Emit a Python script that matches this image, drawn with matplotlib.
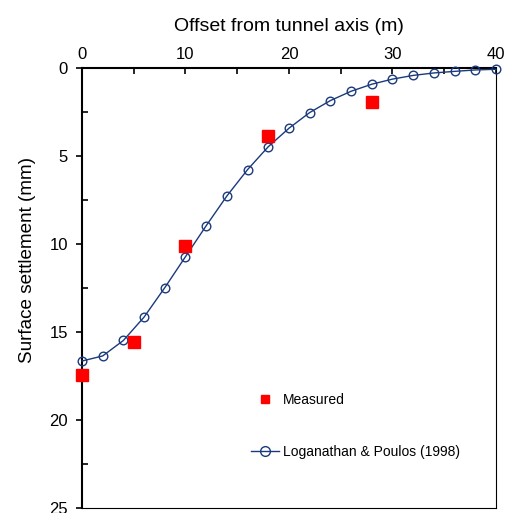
import numpy as np
import matplotlib.pyplot as plt

plt.rcParams['font.family'] = ['Liberation Sans', 'DejaVu Sans']

# Loganathan & Poulos (1998) prediction
offset_pred = [0, 2, 4, 6, 8, 10, 12, 14, 16, 18, 20, 22, 24, 26, 28, 30, 32, 34, 36, 38, 40]
settle_pred = [16.65, 16.36, 15.48, 14.15, 12.48, 10.72, 8.96, 7.27, 5.77, 4.47, 3.42,
               2.53, 1.85, 1.32, 0.92, 0.63, 0.42, 0.28, 0.19, 0.11, 0.07]

# field measurements
offset_meas = [0, 5, 10, 18, 28]
settle_meas = [17.44, 15.55, 10.1, 3.87, 1.93]

navy = '#1b3a7c'

fig = plt.figure(figsize=(5.10, 5.13), dpi=100)
ax = fig.add_axes([0.1608, 0.0098, 0.8117, 0.8576])

ax.plot(offset_meas, settle_meas, 's', color='#ff0000', ms=8.5, mec='#ff0000',
        label='Measured', zorder=4, clip_on=False)
ax.plot(offset_pred, settle_pred, '-o', color=navy, lw=1.0, ms=6.2, mfc='none',
        mec=navy, mew=1.0, label='Loganathan & Poulos (1998)', zorder=3, clip_on=False)

ax.set_xlim(0, 40)
ax.set_ylim(25, 0)
ax.xaxis.tick_top()
ax.xaxis.set_label_position('top')
ax.set_xticks([0, 10, 20, 30, 40])
ax.set_xticks([5, 15, 25, 35], minor=True)
ax.set_yticks([0, 5, 10, 15, 20, 25])
ax.set_yticks([2.5, 7.5, 12.5, 17.5, 22.5], minor=True)

ax.tick_params(axis='x', which='both', direction='in', length=4, width=1.2,
               labelsize=12, pad=4, top=True, bottom=False)
ax.tick_params(axis='y', which='major', direction='out', length=4, width=1.2,
               labelsize=12, pad=6)
ax.tick_params(axis='y', which='minor', direction='in', length=4, width=1.2)

ax.set_xlabel('Offset from tunnel axis (m)', fontsize=14, labelpad=12)
ax.set_ylabel('Surface settlement (mm)', fontsize=13.6)
ax.yaxis.set_label_coords(-0.112, 0.5637)

for s in ['left', 'top']:
    ax.spines[s].set_linewidth(1.5)
for s in ['right', 'bottom']:
    ax.spines[s].set_linewidth(0.8)

leg = ax.legend(loc='upper left', bbox_to_anchor=(0.492, 0.234),
                bbox_transform=fig.transFigure, frameon=False, fontsize=10,
                borderpad=0, borderaxespad=0, handlelength=2.0,
                handletextpad=0.3, labelspacing=2.75)
leg.legend_handles[0].set_markersize(6.3)
leg.legend_handles[1].set_markersize(7.0)

fig.savefig('out.png', dpi=100)
